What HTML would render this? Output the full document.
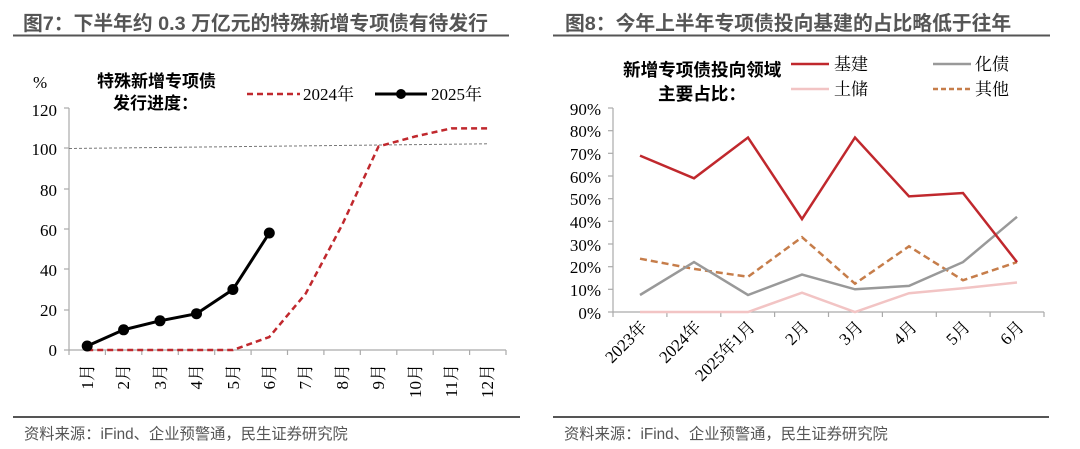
<!DOCTYPE html>
<html><head><meta charset="utf-8"><style>
body{margin:0;background:#fff;}
svg{display:block;}
.t{font-family:"Liberation Sans","Noto Sans CJK SC",sans-serif;font-weight:bold;font-size:19.8px;fill:#555;}
.s{font-family:"Liberation Serif","Noto Serif CJK SC",serif;font-size:17px;fill:#000;}
.c{font-family:"Liberation Sans","Noto Sans CJK SC",sans-serif;font-weight:bold;font-size:17px;fill:#000;}
.f{font-family:"Liberation Sans","Noto Sans CJK SC",sans-serif;font-size:15.3px;fill:#555;}
</style></head><body>
<svg width="1080" height="449" viewBox="0 0 1080 449" xmlns="http://www.w3.org/2000/svg">
<text class="t" x="23" y="30">图7：下半年约 0.3 万亿元的特殊新增专项债有待发行</text>
<line x1="13" y1="35.5" x2="509" y2="35.5" stroke="#555" stroke-width="2"/>
<text class="t" x="565" y="30">图8：今年上半年专项债投向基建的占比略低于往年</text>
<line x1="553" y1="35.5" x2="1050" y2="35.5" stroke="#555" stroke-width="2"/>
<line x1="13" y1="417" x2="520" y2="417" stroke="#555" stroke-width="2"/>
<text class="f" x="24" y="439">资料来源：iFind、企业预警通，民生证券研究院</text>
<line x1="553" y1="417" x2="1049" y2="417" stroke="#555" stroke-width="2"/>
<text class="f" x="564" y="439">资料来源：iFind、企业预警通，民生证券研究院</text>

<g>
<text class="s" x="33" y="88">%</text>
<text class="c" x="97" y="87">特殊新增专项债</text>
<text class="c" x="113" y="109">发行进度：</text>
<line x1="247" y1="94" x2="300" y2="94" stroke="#c0282d" stroke-width="2.5" stroke-dasharray="6,4"/>
<text class="s" x="303" y="100">2024年</text>
<line x1="375" y1="94" x2="427" y2="94" stroke="#000" stroke-width="3"/>
<circle cx="401" cy="94" r="5" fill="#000"/>
<text class="s" x="431" y="100">2025年</text>
<g text-anchor="end">
<text class="s" x="57" y="116">120</text>
<text class="s" x="57" y="155">100</text>
<text class="s" x="57" y="196">80</text>
<text class="s" x="57" y="236">60</text>
<text class="s" x="57" y="276">40</text>
<text class="s" x="57" y="316">20</text>
<text class="s" x="57" y="356">0</text>
</g>
<line x1="69" y1="108" x2="69" y2="350" stroke="#aaa" stroke-width="1.2"/>
<g stroke="#aaa" stroke-width="1.2">
<line x1="64" y1="108" x2="69" y2="108"/><line x1="64" y1="148" x2="69" y2="148"/><line x1="64" y1="189" x2="69" y2="189"/><line x1="64" y1="229" x2="69" y2="229"/><line x1="64" y1="269" x2="69" y2="269"/><line x1="64" y1="310" x2="69" y2="310"/><line x1="64" y1="350" x2="69" y2="350"/>
<line x1="69" y1="350" x2="506" y2="350"/>
<line x1="69" y1="350" x2="69" y2="355"/><line x1="105.4" y1="350" x2="105.4" y2="355"/><line x1="141.8" y1="350" x2="141.8" y2="355"/><line x1="178.3" y1="350" x2="178.3" y2="355"/><line x1="214.7" y1="350" x2="214.7" y2="355"/><line x1="251.1" y1="350" x2="251.1" y2="355"/><line x1="287.5" y1="350" x2="287.5" y2="355"/><line x1="323.9" y1="350" x2="323.9" y2="355"/><line x1="360.3" y1="350" x2="360.3" y2="355"/><line x1="396.8" y1="350" x2="396.8" y2="355"/><line x1="433.2" y1="350" x2="433.2" y2="355"/><line x1="469.6" y1="350" x2="469.6" y2="355"/><line x1="506" y1="350" x2="506" y2="355"/>
</g>
<line x1="69" y1="148.5" x2="488" y2="143.8" stroke="#777" stroke-width="1" stroke-dasharray="3,2"/>
<g text-anchor="end">
<text class="s" transform="translate(93,364) rotate(-90)">1月</text>
<text class="s" transform="translate(129,364) rotate(-90)">2月</text>
<text class="s" transform="translate(166,364) rotate(-90)">3月</text>
<text class="s" transform="translate(202,364) rotate(-90)">4月</text>
<text class="s" transform="translate(239,364) rotate(-90)">5月</text>
<text class="s" transform="translate(275,364) rotate(-90)">6月</text>
<text class="s" transform="translate(311,364) rotate(-90)">7月</text>
<text class="s" transform="translate(348,364) rotate(-90)">8月</text>
<text class="s" transform="translate(384,364) rotate(-90)">9月</text>
<text class="s" transform="translate(421,364) rotate(-90)">10月</text>
<text class="s" transform="translate(457,364) rotate(-90)">11月</text>
<text class="s" transform="translate(493,364) rotate(-90)">12月</text>
</g>
<polyline fill="none" stroke="#c0282d" stroke-width="2.5" stroke-dasharray="6,4" points="87.2,350 123.6,350 160,350 196.5,350 232.9,350 269.3,337 305.7,293.6 342.1,225 378.5,146.5 415,136.5 451.4,128.4 487.8,128.4"/>
<polyline fill="none" stroke="#000" stroke-width="3" points="87.2,346 123.6,329.8 160,320.8 196.5,313.7 232.9,289.5 269.3,233"/>
<g fill="#000"><circle cx="87.2" cy="346" r="5.5"/><circle cx="123.6" cy="329.8" r="5.5"/><circle cx="160" cy="320.8" r="5.5"/><circle cx="196.5" cy="313.7" r="5.5"/><circle cx="232.9" cy="289.5" r="5.5"/><circle cx="269.3" cy="233" r="5.5"/></g>
</g>

<g>
<text class="c" x="623" y="76" style="font-size:17.6px">新增专项债投向领域</text>
<text class="c" x="658" y="100" style="font-size:17.6px">主要占比：</text>
<line x1="791" y1="64" x2="829" y2="64" stroke="#c0282d" stroke-width="2.5"/>
<text class="s" x="834" y="70">基建</text>
<line x1="933" y1="64" x2="971" y2="64" stroke="#999" stroke-width="2.5"/>
<text class="s" x="975" y="70">化债</text>
<line x1="791" y1="89" x2="829" y2="89" stroke="#f2c4c4" stroke-width="2.5"/>
<text class="s" x="834" y="95">土储</text>
<line x1="933" y1="89" x2="971" y2="89" stroke="#c67d4a" stroke-width="2.5" stroke-dasharray="5,3"/>
<text class="s" x="975" y="95">其他</text>
<g text-anchor="end">
<text class="s" x="601" y="115">90%</text>
<text class="s" x="601" y="137">80%</text>
<text class="s" x="601" y="160">70%</text>
<text class="s" x="601" y="183">60%</text>
<text class="s" x="601" y="205">50%</text>
<text class="s" x="601" y="228">40%</text>
<text class="s" x="601" y="251">30%</text>
<text class="s" x="601" y="273">20%</text>
<text class="s" x="601" y="296">10%</text>
<text class="s" x="601" y="319">0%</text>
</g>
<g stroke="#aaa" stroke-width="1.2">
<line x1="613" y1="108" x2="613" y2="312"/>
<line x1="608" y1="108" x2="613" y2="108"/><line x1="608" y1="130.7" x2="613" y2="130.7"/><line x1="608" y1="153.3" x2="613" y2="153.3"/><line x1="608" y1="176" x2="613" y2="176"/><line x1="608" y1="198.7" x2="613" y2="198.7"/><line x1="608" y1="221.3" x2="613" y2="221.3"/><line x1="608" y1="244" x2="613" y2="244"/><line x1="608" y1="266.7" x2="613" y2="266.7"/><line x1="608" y1="289.3" x2="613" y2="289.3"/><line x1="608" y1="312" x2="613" y2="312"/>
<line x1="613" y1="312" x2="1044" y2="312"/>
<line x1="613" y1="312" x2="613" y2="317"/><line x1="666.9" y1="312" x2="666.9" y2="317"/><line x1="720.8" y1="312" x2="720.8" y2="317"/><line x1="774.6" y1="312" x2="774.6" y2="317"/><line x1="828.5" y1="312" x2="828.5" y2="317"/><line x1="882.4" y1="312" x2="882.4" y2="317"/><line x1="936.3" y1="312" x2="936.3" y2="317"/><line x1="990.1" y1="312" x2="990.1" y2="317"/><line x1="1044" y1="312" x2="1044" y2="317"/>
</g>
<g text-anchor="end">
<text class="s" transform="translate(648,328) rotate(-45)">2023年</text>
<text class="s" transform="translate(702,328) rotate(-45)">2024年</text>
<text class="s" transform="translate(756,328) rotate(-45)">2025年1月</text>
<text class="s" transform="translate(810,328) rotate(-45)">2月</text>
<text class="s" transform="translate(864,328) rotate(-45)">3月</text>
<text class="s" transform="translate(918,328) rotate(-45)">4月</text>
<text class="s" transform="translate(971,328) rotate(-45)">5月</text>
<text class="s" transform="translate(1025,328) rotate(-45)">6月</text>
</g>
<polyline fill="none" stroke="#f2c4c4" stroke-width="2.5" points="640,312 694,312 748,312 802,292.7 855,312 909,293.2 963,288.2 1017,282.5"/>
<polyline fill="none" stroke="#c67d4a" stroke-width="2.5" stroke-dasharray="7,4" points="640,258.7 694,268.9 748,276.8 802,237.2 855,283.7 909,246.3 963,280.3 1017,262.1"/>
<polyline fill="none" stroke="#999" stroke-width="2.5" points="640,295 694,262.1 748,295 802,274.6 855,289.3 909,285.9 963,262.1 1017,216.8"/>
<polyline fill="none" stroke="#c0282d" stroke-width="2.5" points="640,155.6 694,178.3 748,137.5 802,219.1 855,137.5 909,196.4 963,193 1017,262.1"/>
</g>
</svg>
</body></html>
